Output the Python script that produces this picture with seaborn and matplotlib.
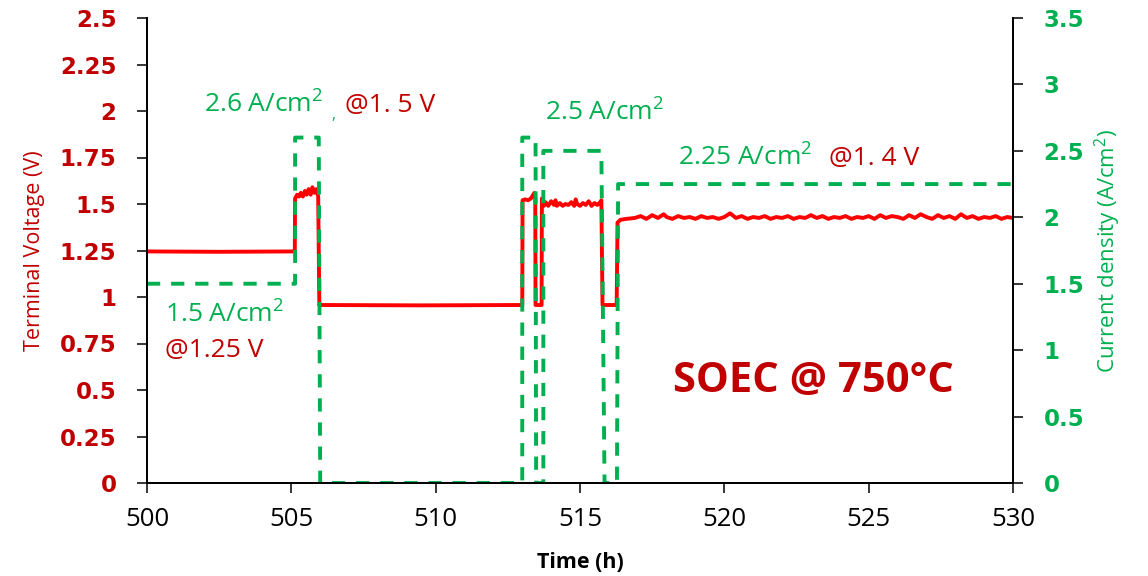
import numpy as np
import pandas as pd
import matplotlib
matplotlib.use("Agg")
import matplotlib.pyplot as plt
import seaborn as sns

# ---------------- data ----------------
# Current density (A/cm2) step profile
t_cur = [500, 505.13, 505.13, 505.95, 506.0, 513.0, 513.0, 513.46, 513.48,
         513.73, 513.73, 515.74, 515.85, 516.28, 516.32, 530]
cur = [1.5, 1.5, 2.6, 2.6, 0, 0, 2.6, 2.6, 0,
       0, 2.5, 2.5, 0, 0, 2.25, 2.25]

# Terminal voltage (V), segment by segment
t_v_a = [500, 502.5, 505.12]
v_a = [1.245, 1.243, 1.245]
t_v_b = [505.13, 505.2, 505.27, 505.33, 505.4, 505.47, 505.53, 505.6, 505.67,
         505.73, 505.8, 505.87, 505.93]
v_b = [1.53, 1.55, 1.54, 1.56, 1.54, 1.57, 1.55, 1.58, 1.55, 1.59, 1.56, 1.58, 1.54]
t_v_c = [505.97, 509.5, 513.0]
v_c = [0.957, 0.955, 0.957]
t_v_d = [513.01, 513.1, 513.2, 513.3, 513.42, 513.45]
v_d = [1.52, 1.525, 1.52, 1.53, 1.56, 1.53]
t_v_e = [513.46, 513.67]
v_e = [0.957, 0.957]
t_v_f = [513.68, 513.75, 513.8, 513.9, 514.0, 514.1, 514.15, 514.2, 514.3, 514.4,
         514.5, 514.6, 514.7, 514.8, 514.85, 514.9, 515.0, 515.1, 515.2, 515.3,
         515.4, 515.5, 515.6, 515.7, 515.74]
v_f = [1.53, 1.49, 1.51, 1.49, 1.515, 1.495, 1.52, 1.49, 1.505, 1.49,
       1.50, 1.495, 1.51, 1.49, 1.525, 1.50, 1.49, 1.505, 1.495, 1.515,
       1.49, 1.505, 1.495, 1.51, 1.52]
t_v_g = [515.78, 516.27]
v_g = [0.957, 0.957]
t_v_h = [516.3, 516.4, 516.6, 516.9, 517.1, 517.3, 517.5, 517.7, 517.9, 518.0,
         518.2, 518.4, 518.6, 518.8, 519.0, 519.2, 519.4, 519.6, 519.8, 520.0,
         520.2, 520.4, 520.6, 520.8, 521.0, 521.2, 521.4, 521.6, 521.8, 522.0,
         522.2, 522.4, 522.6, 522.8, 523.0, 523.2, 523.4, 523.6, 523.8, 524.0,
         524.2, 524.4, 524.6, 524.8, 525.0, 525.2, 525.4, 525.6, 525.8, 526.0,
         526.2, 526.4, 526.6, 526.8, 527.0, 527.2, 527.4, 527.6, 527.8, 528.0,
         528.2, 528.4, 528.6, 528.8, 529.0, 529.2, 529.4, 529.6, 529.8, 530.0]
v_h = [1.40, 1.415, 1.42, 1.425, 1.435, 1.42, 1.44, 1.425, 1.445, 1.43,
       1.42, 1.435, 1.425, 1.43, 1.42, 1.435, 1.425, 1.43, 1.42, 1.43,
       1.45, 1.425, 1.435, 1.42, 1.43, 1.425, 1.435, 1.42, 1.43, 1.425,
       1.435, 1.42, 1.43, 1.425, 1.44, 1.425, 1.435, 1.42, 1.43, 1.425,
       1.435, 1.42, 1.43, 1.425, 1.435, 1.42, 1.44, 1.425, 1.435, 1.43,
       1.42, 1.44, 1.425, 1.445, 1.43, 1.42, 1.44, 1.425, 1.435, 1.42,
       1.445, 1.425, 1.435, 1.42, 1.43, 1.425, 1.435, 1.42, 1.43, 1.425]

t_volt = t_v_a + t_v_b + t_v_c + t_v_d + t_v_e + t_v_f + t_v_g + t_v_h
volt = v_a + v_b + v_c + v_d + v_e + v_f + v_g + v_h

x_ticks = [500, 505, 510, 515, 520, 525, 530]
v_ticks = [0, 0.25, 0.5, 0.75, 1, 1.25, 1.5, 1.75, 2, 2.25, 2.5]
v_tick_labels = ["0", "0.25", "0.5", "0.75", "1", "1.25", "1.5", "1.75", "2", "2.25", "2.5"]
c_ticks = [0, 0.5, 1, 1.5, 2, 2.5, 3, 3.5]
c_tick_labels = ["0", "0.5", "1", "1.5", "2", "2.5", "3", "3.5"]

# ---------------- style ----------------
sns.set_style("white")
plt.rcParams['font.family'] = ['Open Sans', 'DejaVu Sans']
plt.rcParams['mathtext.fontset'] = 'custom'
plt.rcParams['mathtext.rm'] = 'Open Sans'
plt.rcParams['mathtext.it'] = 'Open Sans'
plt.rcParams['mathtext.bf'] = 'Open Sans:bold'
plt.rcParams['mathtext.default'] = 'rm'

RED = "#FF0000"
DRED = "#C00000"
GREEN = "#00B050"

fig = plt.figure(figsize=(11.48, 5.76), dpi=100)
ax = fig.add_axes([147/1148, 1-483/576, 866/1148, 465/576])
ax2 = ax.twinx()

df_v = pd.DataFrame({"t": t_volt, "v": volt})
df_c = pd.DataFrame({"t": t_cur, "c": cur})

sns.lineplot(data=df_v, x="t", y="v", ax=ax, color=RED, linewidth=2.8,
             estimator=None, sort=False)
sns.lineplot(data=df_c, x="t", y="c", ax=ax2, color=GREEN, linewidth=2.8,
             estimator=None, sort=False, dashes=False)
ax2.lines[0].set_dashes([3.4, 2.8])

ax.set_xlim(500, 530)
ax.set_ylim(0, 2.5)
ax2.set_ylim(0, 3.5)

ax.set_xticks(x_ticks)
ax.set_xticklabels([str(x) for x in x_ticks], fontsize=18.5, color="black")
ax.set_yticks(v_ticks)
ax.set_yticklabels(v_tick_labels, fontsize=16.5, color=DRED,
                   family="DejaVu Sans", fontweight="bold")
ax2.set_yticks(c_ticks)
ax2.set_yticklabels(c_tick_labels, fontsize=16.5, color=GREEN,
                    family="DejaVu Sans", fontweight="bold")

ax.tick_params(axis="x", direction="out", length=7, width=1.3, pad=10, bottom=True)
ax.tick_params(axis="y", direction="out", length=7, width=1.3, pad=15, left=True)
ax2.tick_params(axis="y", direction="out", length=7, width=1.3, pad=15, right=True)

for a in (ax, ax2):
    a.spines["top"].set_visible(False)
    for s in ("left", "right", "bottom"):
        a.spines[s].set_color("black")
        a.spines[s].set_linewidth(1.3)

ax.set_xlabel("Time (h)", fontsize=15.5, fontweight="bold", color="black")
ax.xaxis.set_label_coords(0.5, -(563-483)/465)
ax.xaxis.label.set_va("center")
ax.set_ylabel("Terminal Voltage (V)", fontsize=15.5, color=DRED)
ax.yaxis.set_label_coords((35-147)/866, 0.5)
ax.yaxis.label.set_va("center")
ax2.set_ylabel("Current density (A/cm$^2$)", fontsize=16, color=GREEN)
ax2.yaxis.set_label_coords((1108-147)/866, 0.5)
ax2.yaxis.label.set_va("center")

# ---------------- annotations ----------------
fs = 19
ax.text(501.98, 2.03, "2.6 A/cm$^2$", color=GREEN, fontsize=fs, ha="left", va="center")
ax.text(506.4, 1.975, ",", color=GREEN, fontsize=11, ha="left", va="center")
ax.text(506.85, 2.03, "@1. 5 V", color=DRED, fontsize=fs, ha="left", va="center")
ax.text(513.8, 1.99, "2.5 A/cm$^2$", color=GREEN, fontsize=fs, ha="left", va="center")
ax.text(518.4, 1.745, "2.25 A/cm$^2$", color=GREEN, fontsize=fs, ha="left", va="center")
ax.text(523.62, 1.745, "@1. 4 V", color=DRED, fontsize=fs, ha="left", va="center")
ax.text(500.62, 0.905, "1.5 A/cm$^2$", color=GREEN, fontsize=fs, ha="left", va="center")
ax.text(500.62, 0.715, "@1.25 V", color=DRED, fontsize=fs, ha="left", va="center")
ax.text(523.1, 0.545, "SOEC @ 750°C", color=DRED, fontsize=30, fontweight="bold",
        ha="center", va="center")

fig.savefig("out.png", dpi=100, facecolor="white")
